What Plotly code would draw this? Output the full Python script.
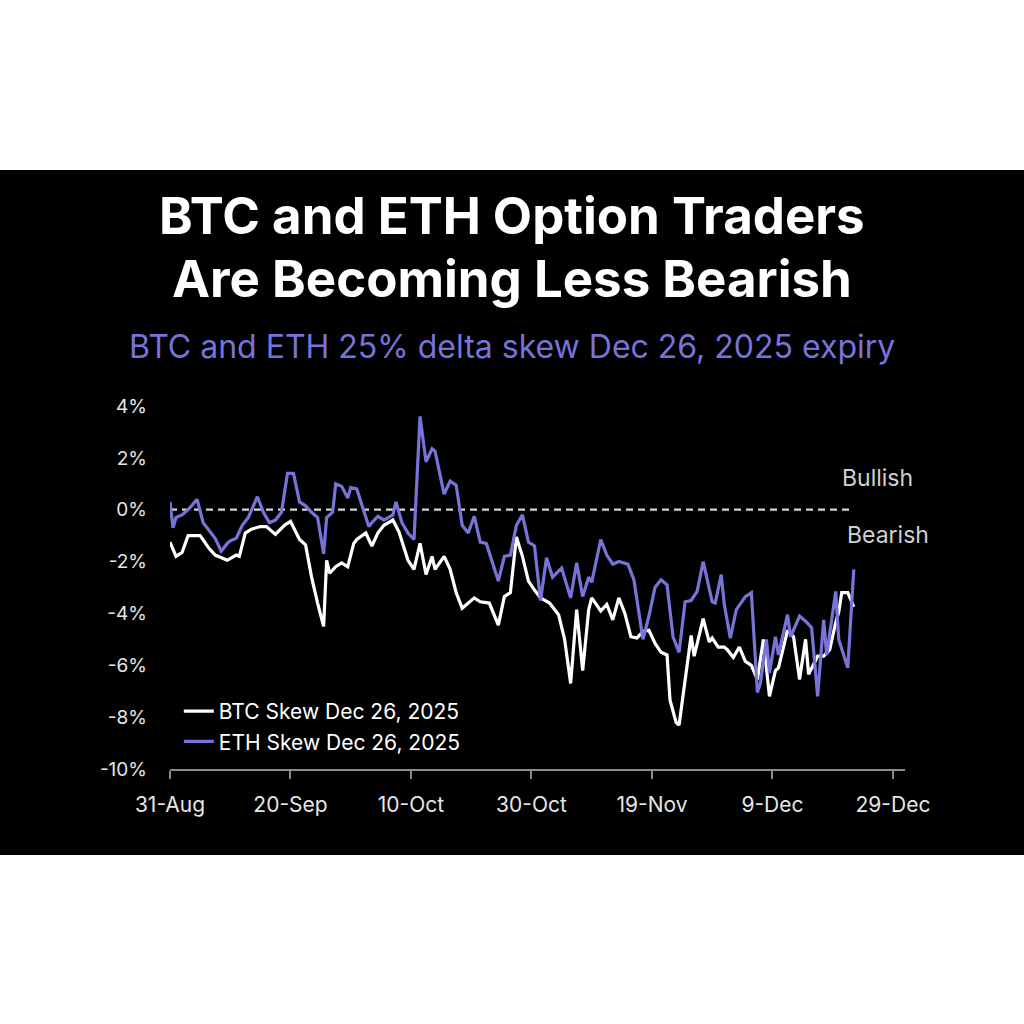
import pandas as pd
import plotly.graph_objects as go

# ---- data ----
start_date = "2025-08-31"

btc_days = [0, 1, 2, 3, 5, 6.5, 7.5, 9.5, 11, 11.5, 12.5, 13.5, 15, 16, 17.5, 19, 20, 21.5, 22.5, 23.5,
            24.5, 25.5, 26, 26.5, 27.5, 28.5, 29.5, 30.5, 31, 32.5, 33.5, 34.5, 35.5, 37, 38, 39.5, 40.5,
            41.5, 42.5, 43.5, 44, 45.5, 46.5, 47.5, 48.5, 49.5, 50.5, 51.5, 53, 54.5, 55.5, 56.5, 57.5,
            58.5, 59.5, 60.5, 61.5, 63, 64.5, 65.5, 66.5, 67.5, 68.5, 69.5, 70, 71.5, 72.5, 73.5, 74.5,
            75.5, 76.5, 77.5, 78.5, 79.5, 80.5, 81.5, 82.5, 83, 84, 84.5, 85.5, 86.5, 87, 88.5, 89.5, 90,
            91, 92, 92.5, 93.5, 94.5, 95.5, 96.5, 97.5, 98.5, 99.5, 100.5, 101, 102.5, 103.5, 104.5,
            105.5, 106, 107.5, 108.5, 109.5, 110.5, 111, 111.5, 112.5, 113.5]
btc_skew = [-1.25, -1.8, -1.65, -1.0, -1.0, -1.5, -1.75, -1.95, -1.75, -1.8, -0.9, -0.75, -0.65, -0.65,
            -0.95, -0.6, -0.45, -1.15, -1.35, -2.6, -3.6, -4.5, -1.95, -2.45, -2.2, -2.05, -2.2, -1.3,
            -1.15, -0.9, -1.4, -0.9, -0.6, -0.4, -0.85, -1.95, -2.3, -1.3, -2.5, -1.8, -2.3, -1.8, -2.3,
            -3.2, -3.8, -3.6, -3.4, -3.55, -3.6, -4.45, -3.35, -3.2, -1.05, -1.8, -2.75, -3.1, -3.4,
            -3.6, -4.05, -5.0, -6.7, -3.85, -6.2, -3.85, -3.4, -3.9, -3.65, -4.25, -3.4, -4.0, -4.9,
            -4.95, -4.7, -4.65, -5.15, -5.5, -5.6, -7.35, -8.2, -8.3, -6.5, -4.85, -5.65, -4.2, -5.1,
            -4.95, -5.3, -5.3, -5.4, -5.7, -5.3, -5.85, -6.0, -6.55, -5.0, -7.2, -6.2, -6.1, -4.65,
            -4.9, -6.55, -5.0, -6.35, -5.65, -5.65, -5.4, -4.35, -3.95, -3.2, -3.2, -3.75]

eth_days = [0, 0.5, 1, 2, 3, 4.5, 5.5, 6.5, 7.5, 8.5, 9.5, 10, 11, 12, 13, 14.5, 15.5, 16.5, 17.5, 18.5,
            19.5, 20.5, 21.5, 22.5, 23.5, 24.5, 25.5, 26, 27, 27.5, 28.5, 29.5, 30, 31, 32, 33, 33.5,
            34.5, 35.5, 37, 37.5, 38.5, 39.5, 40.5, 41.5, 42.5, 43.5, 44, 45.5, 46.5, 47.5, 48.5, 49.5,
            50.5, 51.5, 52.5, 54.5, 55.5, 56.5, 57.5, 58.5, 59.5, 60.5, 61.5, 62.5, 63.5, 65, 66.5,
            67.5, 68.5, 69.5, 70, 71.5, 72.5, 73.5, 74.5, 76, 77, 78.5, 79.5, 80.5, 81.5, 82.5, 83.5,
            84.5, 85.5, 86.5, 87.5, 88.5, 90, 90.5, 91.5, 92, 93, 94, 95.5, 96.5, 97.5, 98, 99, 99.5,
            100.5, 101, 102.5, 103, 104.5, 105.5, 106.5, 107.5, 108.5, 109, 110.5, 111, 112.5, 113.5]
eth_skew = [0.3, -0.7, -0.3, -0.2, 0.0, 0.4, -0.5, -0.8, -1.1, -1.6, -1.3, -1.2, -1.1, -0.6, -0.3, 0.5,
            -0.1, -0.5, -0.4, -0.1, 1.4, 1.4, 0.3, 0.15, -0.1, -0.3, -1.7, -0.3, -0.1, 1.0, 0.9, 0.45,
            0.85, 0.8, 0.1, -0.65, -0.5, -0.25, -0.4, -0.2, 0.3, -0.5, -0.9, -1.15, 3.6, 1.85, 2.35,
            2.25, 0.6, 1.1, 0.95, -0.6, -0.9, -0.25, -1.25, -1.3, -2.75, -1.8, -1.75, -0.6, -0.2, -1.25,
            -1.4, -3.5, -1.85, -2.6, -2.25, -3.4, -2.05, -3.35, -2.6, -2.8, -1.15, -1.75, -2.1, -2.0,
            -2.1, -2.7, -5.0, -4.1, -3.0, -2.7, -2.9, -4.9, -5.5, -3.55, -3.5, -3.15, -2.0, -3.55, -3.6,
            -2.5, -3.65, -4.95, -3.85, -3.35, -3.2, -7.05, -6.7, -5.0, -6.3, -4.9, -5.6, -4.05, -4.9,
            -4.1, -4.3, -4.55, -7.2, -4.25, -5.6, -3.15, -5.0, -6.1, -2.3]

x_tick_dates = ["2025-08-31", "2025-09-20", "2025-10-10", "2025-10-30", "2025-11-19", "2025-12-09", "2025-12-29"]
x_tick_labels = ["31-Aug", "20-Sep", "10-Oct", "30-Oct", "19-Nov", "9-Dec", "29-Dec"]
y_tick_values = [-10, -8, -6, -4, -2, 0, 2, 4]
y_tick_labels = ["-10%", "-8%", "-6%", "-4%", "-2%", "0%", "2%", "4%"]

series_names = ["BTC Skew Dec 26, 2025", "ETH Skew Dec 26, 2025"]
title_lines = ["BTC and ETH Option Traders", "Are Becoming Less Bearish"]
subtitle = "BTC and ETH 25% delta skew Dec 26, 2025 expiry"
zone_labels = ["Bullish", "Bearish"]

# ---- build ----
t0 = pd.Timestamp(start_date)
btc_x = t0 + pd.to_timedelta(btc_days, unit="D")
eth_x = t0 + pd.to_timedelta(eth_days, unit="D")

WHITE = "#ffffff"
PURPLE = "#7773d8"
FONT = "Inter, Lato, sans-serif"

fig = go.Figure()
fig.add_trace(go.Scatter(x=btc_x, y=btc_skew, mode="lines", name=series_names[0],
                         line=dict(color=WHITE, width=3.2)))
fig.add_trace(go.Scatter(x=eth_x, y=eth_skew, mode="lines", name=series_names[1],
                         line=dict(color=PURPLE, width=3.2)))

# zero line (dashed)
fig.add_shape(type="line", xref="x", yref="y", x0=btc_x[0], x1=btc_x[-1], y0=0, y1=0,
              line=dict(color="#d4d4d4", width=2.2, dash="7px,5px"), layer="below")

# black band background
fig.add_shape(type="rect", xref="paper", yref="paper", x0=-0.4, x1=1.4, y0=-0.237, y1=1.650,
              fillcolor="#000000", line=dict(width=0), layer="below")

fig.add_annotation(text="<b>" + title_lines[0] + "</b>", xref="paper", yref="paper", x=0.4653, y=1.524,
                   showarrow=False, font=dict(family=FONT, size=51, color=WHITE), xanchor="center", yanchor="middle")
fig.add_annotation(text="<b>" + title_lines[1] + "</b>", xref="paper", yref="paper", x=0.4653, y=1.352,
                   showarrow=False, font=dict(family=FONT, size=51, color=WHITE), xanchor="center", yanchor="middle")
fig.add_annotation(text=subtitle, xref="paper", yref="paper", x=0.4653, y=1.163,
                   showarrow=False, font=dict(family=FONT, size=32, color=PURPLE), xanchor="center", yanchor="middle")
fig.add_annotation(text=zone_labels[0], xref="paper", yref="paper", x=0.962, y=0.8017,
                   showarrow=False, font=dict(family=FONT, size=23, color="#d0d0d0"), xanchor="center", yanchor="middle")
fig.add_annotation(text=zone_labels[1], xref="paper", yref="paper", x=0.977, y=0.6446,
                   showarrow=False, font=dict(family=FONT, size=23, color="#d0d0d0"), xanchor="center", yanchor="middle")

fig.update_layout(
    width=1024, height=1024,
    margin=dict(l=170, r=119, t=406, b=255),
    paper_bgcolor="#ffffff",
    plot_bgcolor="rgba(0,0,0,0)",
    showlegend=True,
    legend=dict(x=0.012, y=0.215, xanchor="left", yanchor="top", bgcolor="rgba(0,0,0,0)",
                font=dict(family=FONT, size=21, color=WHITE), itemwidth=30, tracegroupgap=0),
    font=dict(family=FONT, color="#e6e6e6"),
)
fig.update_xaxes(range=["2025-08-31", "2025-12-31"], tickvals=x_tick_dates, ticktext=x_tick_labels,
                 showgrid=False, zeroline=False, showline=True, linecolor="#8a8a8a", linewidth=2,
                 ticks="outside", ticklen=8, tickwidth=2, tickcolor="#8a8a8a",
                 tickfont=dict(family=FONT, size=21, color="#e6e6e6"), ticklabelstandoff=8)
fig.update_yaxes(range=[-10, 4], tickvals=y_tick_values, ticktext=y_tick_labels,
                 showgrid=False, zeroline=False, showline=False, ticks="",
                 tickfont=dict(family=FONT, size=19, color="#e6e6e6"), ticklabelstandoff=22)

fig.write_html("out.html")
